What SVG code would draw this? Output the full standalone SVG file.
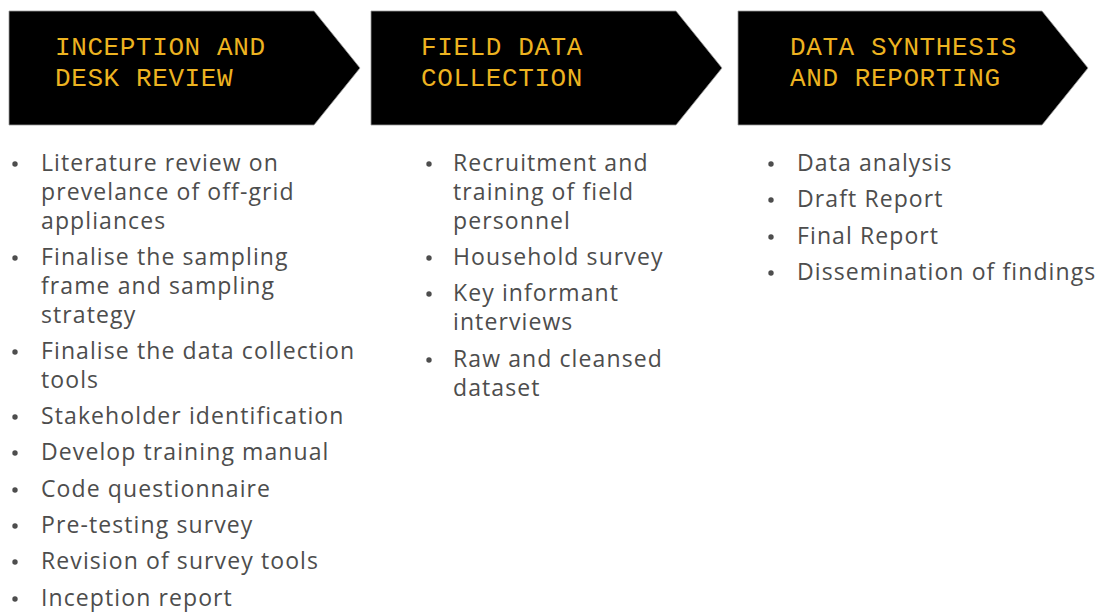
<svg xmlns="http://www.w3.org/2000/svg" width="1102" height="612" viewBox="0 0 1102 612">
<style>
.arrow{fill:#000;stroke:#9a9a9a;stroke-width:0.8}
.head{font-family:"Liberation Mono","DejaVu Sans Mono",monospace;font-size:26px;letter-spacing:0.6px;fill:#EDB320}
.item{font-family:"Open Sans","Noto Sans",sans-serif;font-size:23px;letter-spacing:1.1px;fill:#4d4d4d}
.dot{fill:#4d4d4d}
</style>
<rect width="1102" height="612" fill="#fff"/>
<g id="phase1">
<polygon class="arrow" points="9,11 314,11 360,68 314,125 9,125"/>
<text class="head" x="55" y="55">INCEPTION AND</text>
<text class="head" x="55" y="86">DESK REVIEW</text>
</g>
<g id="phase2">
<polygon class="arrow" points="371,11 676,11 722,68 676,125 371,125"/>
<text class="head" x="421" y="55">FIELD DATA</text>
<text class="head" x="421" y="86">COLLECTION</text>
</g>
<g id="phase3">
<polygon class="arrow" points="738,11 1042,11 1088,68 1042,125 738,125"/>
<text class="head" x="790" y="55">DATA SYNTHESIS</text>
<text class="head" x="790" y="86">AND REPORTING</text>
</g>
<g id="list1">
<circle class="dot" cx="15" cy="164" r="2.7"/>
<text class="item" x="41" y="171">Literature review on</text>
<text class="item" x="41" y="200">prevelance of off-grid</text>
<text class="item" x="41" y="229">appliances</text>
<circle class="dot" cx="15" cy="258" r="2.7"/>
<text class="item" x="41" y="265">Finalise the sampling</text>
<text class="item" x="41" y="294">frame and sampling</text>
<text class="item" x="41" y="323">strategy</text>
<circle class="dot" cx="15" cy="352" r="2.7"/>
<text class="item" x="41" y="359">Finalise the data collection</text>
<text class="item" x="41" y="388">tools</text>
<circle class="dot" cx="15" cy="417" r="2.7"/>
<text class="item" x="41" y="424">Stakeholder identification</text>
<circle class="dot" cx="15" cy="453" r="2.7"/>
<text class="item" x="41" y="460">Develop training manual</text>
<circle class="dot" cx="15" cy="490" r="2.7"/>
<text class="item" x="41" y="497">Code questionnaire</text>
<circle class="dot" cx="15" cy="526" r="2.7"/>
<text class="item" x="41" y="533">Pre-testing survey</text>
<circle class="dot" cx="15" cy="562" r="2.7"/>
<text class="item" x="41" y="569">Revision of survey tools</text>
<circle class="dot" cx="15" cy="599" r="2.7"/>
<text class="item" x="41" y="606">Inception report</text>
</g>
<g id="list2">
<circle class="dot" cx="429" cy="164" r="2.7"/>
<text class="item" x="453" y="171">Recruitment and</text>
<text class="item" x="453" y="200">training of field</text>
<text class="item" x="453" y="229">personnel</text>
<circle class="dot" cx="429" cy="258" r="2.7"/>
<text class="item" x="453" y="265">Household survey</text>
<circle class="dot" cx="429" cy="294" r="2.7"/>
<text class="item" x="453" y="301">Key informant</text>
<text class="item" x="453" y="330">interviews</text>
<circle class="dot" cx="429" cy="360" r="2.7"/>
<text class="item" x="453" y="367">Raw and cleansed</text>
<text class="item" x="453" y="396">dataset</text>
</g>
<g id="list3">
<circle class="dot" cx="771" cy="164" r="2.7"/>
<text class="item" x="797" y="171">Data analysis</text>
<circle class="dot" cx="771" cy="200" r="2.7"/>
<text class="item" x="797" y="207">Draft Report</text>
<circle class="dot" cx="771" cy="237" r="2.7"/>
<text class="item" x="797" y="244">Final Report</text>
<circle class="dot" cx="771" cy="273" r="2.7"/>
<text class="item" x="797" y="280">Dissemination of findings</text>
</g>
</svg>
